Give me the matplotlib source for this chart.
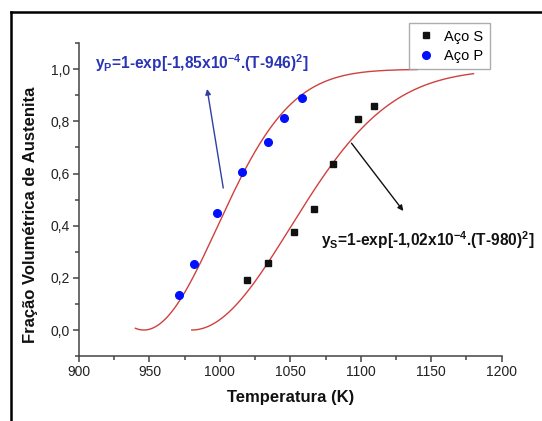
import numpy as np
import matplotlib
matplotlib.use('Agg')
import matplotlib.pyplot as plt
from matplotlib.lines import Line2D

plt.rcParams['font.family'] = ['Liberation Sans', 'DejaVu Sans']
plt.rcParams['mathtext.fontset'] = 'custom'
plt.rcParams['mathtext.rm'] = 'Liberation Sans'
plt.rcParams['mathtext.bf'] = 'Liberation Sans:bold'
plt.rcParams['mathtext.it'] = 'Liberation Sans:italic'

# dados experimentais
temp_S = [1019.1, 1034.3, 1052.5, 1066.7, 1080.6, 1097.8, 1109.6]
frac_S = [0.190, 0.257, 0.374, 0.464, 0.635, 0.808, 0.860]
temp_P = [971.3, 981.4, 997.8, 1015.9, 1033.8, 1045.3, 1058.6]
frac_P = [0.133, 0.252, 0.450, 0.605, 0.722, 0.812, 0.889]

# parametros dos ajustes y = 1-exp[-k.(T-T0)^2]
k_S, T0_S, Tmax_S = 1.02e-4, 980, 1180
k_P, T0_P, Tmin_P, Tmax_P = 1.85e-4, 946, 940, 1140

fig = plt.figure(figsize=(5.42, 4.21), dpi=100)
ax = fig.add_axes([0.1458, 0.1542, 0.7798, 0.7432])

cor_curva = '#d0403f'
T = np.linspace(Tmin_P, Tmax_P, 300)
ax.plot(T, 1 - np.exp(-k_P * (T - T0_P) ** 2), color=cor_curva, lw=1.0)
T = np.linspace(T0_S, Tmax_S, 300)
ax.plot(T, 1 - np.exp(-k_S * (T - T0_S) ** 2), color=cor_curva, lw=1.0)

ax.plot(temp_S, frac_S, 's', color='#111111', ms=5, label='Aço S')
ax.plot(temp_P, frac_P, 'o', color='#0010ff', ms=5.5, label='Aço P')

ax.set_xlim(900, 1200)
ax.set_ylim(-0.1, 1.1)
ax.set_xticks(np.arange(900, 1201, 50))
ax.set_xticks(np.arange(925, 1200, 50), minor=True)
ax.set_yticks(np.arange(0, 1.01, 0.2))
ax.set_yticks(np.arange(-0.1, 1.11, 0.2), minor=True)
ax.set_yticklabels([('%.1f' % v).replace('.', ',') for v in np.arange(0, 1.01, 0.2)])

for s in ['top', 'right']:
    ax.spines[s].set_visible(False)
for s in ['left', 'bottom']:
    ax.spines[s].set_color('#444444')
    ax.spines[s].set_linewidth(1.1)
ax.tick_params(which='major', direction='out', length=4, width=1.1, color='#444444',
               labelsize=10, labelcolor='#222222', pad=2.5)
ax.tick_params(which='minor', direction='out', length=3, width=1.1, color='#444444')

ax.set_xlabel('Temperatura (K)', fontsize=12, fontweight='bold', color='#111111')
ax.set_ylabel('Fração Volumétrica de Austenita', fontsize=12, fontweight='bold', color='#111111')
ax.xaxis.set_label_coords(0.5, -0.109)
ax.yaxis.set_label_coords(-0.097, 0.45)

# equacoes e setas
ax.text(911.5, 1.024, r'y$_\mathbf{P}$=1-exp[-1,85x10$^\mathbf{-4}$.(T-946)$^\mathbf{2}$]',
        fontsize=11.2, fontweight='bold', color='#2a35b5', va='center', ha='left')
ax.annotate('', xy=(990.6, 0.935), xytext=(1002.7, 0.534),
            arrowprops=dict(arrowstyle='-|>', color='#3040a0', lw=1.0, mutation_scale=8))
ax.text(1071.5, 0.345, r'y$_\mathbf{S}$=1-exp[-1,02x10$^\mathbf{-4}$.(T-980)$^\mathbf{2}$]',
        fontsize=11.2, fontweight='bold', color='#111111', va='center', ha='left')
ax.annotate('', xy=(1131.4, 0.448), xytext=(1092.2, 0.725),
            arrowprops=dict(arrowstyle='-|>', color='#111111', lw=1.0, mutation_scale=8))

leg = ax.legend(loc='upper right', bbox_to_anchor=(490 / 542, 1 - 23 / 421),
                bbox_transform=fig.transFigure, borderaxespad=0, fontsize=10.5,
                fancybox=False, edgecolor='#999999', handletextpad=0.5,
                handlelength=1.5, borderpad=0.45, labelspacing=0.35)
leg.get_frame().set_linewidth(1.0)

# moldura
fig.add_artist(Line2D([11 / 542, 11 / 542], [0, 1 - 12 / 421], transform=fig.transFigure,
                      color='black', lw=1.8))
fig.add_artist(Line2D([11 / 542, 1], [1 - 12 / 421, 1 - 12 / 421], transform=fig.transFigure,
                      color='black', lw=1.8))

fig.savefig('out.png', dpi=100)
